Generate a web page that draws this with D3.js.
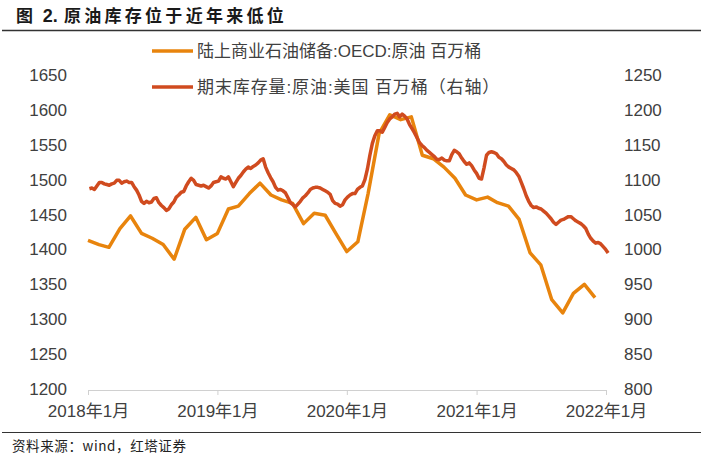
<!DOCTYPE html>
<html><head><meta charset="utf-8">
<script src="https://cdn.jsdelivr.net/npm/d3@7/dist/d3.min.js"></script>
<style>
html,body{margin:0;padding:0;background:#fff;}
svg{display:block;font-family:"Liberation Sans",Arial,"Noto Sans CJK SC",sans-serif;}
</style></head>
<body><svg id="c" width="703" height="460"></svg>
<script>
// ---- data ----
const title = "图 2. 原油库存位于近年来低位";
const source = "资料来源：wind，红塔证券";
const seriesNames = ["陆上商业石油储备:OECD:原油 百万桶", "期末库存量:原油:美国 百万桶（右轴）"];
const xTickLabels = ["2018年1月", "2019年1月", "2020年1月", "2021年1月", "2022年1月"];
const leftTicks = [1200,1250,1300,1350,1400,1450,1500,1550,1600,1650];
const rightTicks = [800,850,900,950,1000,1050,1100,1150,1200,1250];
// OECD monthly, 2018-01 .. 2021-12
const oecdStart = "2018-01-01";
const oecdValues = [
 1413,1407,1403,1430,1448,1423,1416,1407,1386,1429,1446,1414,
 1423,1458,1462,1480,1495,1478,1471,1466,1437,1452,1449,1423,
 1397,1411,1480,1566,1593,1586,1590,1535,1530,1518,1502,1478,
 1471,1475,1467,1462,1443,1395,1378,1328,1309,1337,1350,1331
];
// US weekly (Fridays), 2018-01-05 .. 2022-01-07
const usStart = "2018-01-05";
const usValues = [
 1087,1088,1086,1091,1096,1096,1094,1093,1092,1094,1095,1099,1099,1095,1097,1098,1096,1096,1090,1085,
 1078,1069,1066,1069,1067,1068,1073,1074,1067,1063,1060,1056,1058,1064,1068,1075,1078,1082,1083,1091,
 1097,1102,1099,1093,1092,1091,1092,1090,1088,1091,1096,1097,1098,1104,1102,1101,1104,1097,1090,1096,
 1102,1106,1111,1115,1118,1116,1119,1121,1124,1128,1130,1118,1110,1103,1097,1089,1085,1086,1084,1081,
 1074,1067,1064,1061,1065,1069,1074,1077,1081,1086,1088,1089,1089,1088,1086,1084,1082,1079,1070,1066,
 1065,1062,1064,1071,1075,1078,1080,1080,1086,1089,1091,1100,1115,1135,1152,1163,1170,1170,1168,1175,
 1182,1187,1190,1194,1195,1190,1194,1191,1187,1179,1173,1167,1160,1153,1149,1146,1142,1139,1136,1133,
 1129,1129,1131,1128,1127,1127,1136,1142,1140,1137,1131,1126,1122,1124,1120,1114,1109,1102,1101,1117,
 1135,1139,1140,1139,1137,1132,1130,1126,1121,1118,1116,1114,1110,1105,1096,1087,1077,1069,1063,1060,
 1061,1059,1058,1055,1052,1048,1044,1039,1036,1039,1042,1043,1045,1047,1047,1044,1041,1039,1037,1034,
 1030,1022,1016,1012,1009,1010,1008,1004,1000,995
];
const colors = ["#E8840D", "#D04B1F"];

// ---- build ----
const parse = d3.utcParse("%Y-%m-%d");
const oecd = oecdValues.map((v,i)=>({date:d3.utcMonth.offset(parse(oecdStart), i), v}));
const us = usValues.map((v,i)=>({date:d3.utcDay.offset(parse(usStart), i*7), v}));

const svg = d3.select("#c");
const x = d3.scaleUtc().domain([parse("2018-01-01"), parse("2022-01-01")]).range([88, 606]);
const yL = d3.scaleLinear().domain([1200,1650]).range([389, 75]);
const yR = d3.scaleLinear().domain([800,1250]).range([389, 75]);

// title
const t = svg.append("text").attr("x",16).attr("y",22)
  .attr("font-family","'Noto Sans CJK SC',sans-serif").attr("font-weight","bold")
  .attr("font-size",17).attr("fill","#1a1a1a");
t.append("tspan").attr("letter-spacing",3).text("图 ");
t.append("tspan").attr("font-family","'Liberation Sans',Arial,sans-serif").attr("font-size",18).attr("letter-spacing",0).text("2.");
t.append("tspan").attr("dx",6).attr("letter-spacing",3.3).text(title.slice(5));
svg.append("line").attr("x1",2).attr("x2",701).attr("y1",30.5).attr("y2",30.5)
  .attr("stroke","#333").attr("stroke-width",1.5);
svg.append("line").attr("x1",2).attr("x2",701).attr("y1",432.5).attr("y2",432.5)
  .attr("stroke","#333").attr("stroke-width",1.2);
svg.append("text").attr("x",12).attr("y",451).text(source)
  .attr("font-family","'Noto Sans CJK SC',sans-serif")
  .attr("font-size",13.5).attr("letter-spacing",0.6).attr("fill","#222");

// x axis
const xTicks = xTickLabels.map((_,i)=>parse((2018+i)+"-01-01"));
const xAxis = d3.axisBottom(x).tickValues(xTicks).tickSize(5).tickSizeOuter(0)
  .tickFormat((d,i)=>xTickLabels[i]);
const gx = svg.append("g").attr("transform","translate(0,390)").call(xAxis);
gx.select(".domain").attr("stroke","#d0d0d0");
gx.selectAll(".tick line").attr("stroke","#d0d0d0");
gx.selectAll(".tick text").attr("font-size",17).attr("fill","#404040").attr("dy",0).attr("y",27)
  .attr("font-family","'Liberation Sans','Noto Sans CJK SC',sans-serif");

// left axis
const gl = svg.append("g").attr("transform","translate(67,0)")
  .call(d3.axisLeft(yL).tickValues(leftTicks).tickSize(0).tickFormat(d3.format("d")));
gl.select(".domain").remove();
gl.selectAll(".tick text").attr("x",0).attr("font-size",17).attr("fill","#404040");

// right axis
const gr = svg.append("g").attr("transform","translate(624,0)")
  .call(d3.axisRight(yR).tickValues(rightTicks).tickSize(0).tickFormat(d3.format("d")));
gr.select(".domain").remove();
gr.selectAll(".tick text").attr("x",0).attr("font-size",17).attr("fill","#404040");

// lines
const lineL = d3.line().x(d=>x(d.date)).y(d=>yL(d.v));
const lineR = d3.line().x(d=>x(d.date)).y(d=>yR(d.v));
svg.append("path").datum(oecd).attr("d",lineL).attr("fill","none")
  .attr("stroke",colors[0]).attr("stroke-width",3.5).attr("stroke-linejoin","round");
svg.append("path").datum(us).attr("d",lineR).attr("fill","none")
  .attr("stroke",colors[1]).attr("stroke-width",3.5).attr("stroke-linejoin","round");

// legend
const leg = svg.append("g");
seriesNames.forEach((n,i)=>{
  const yy = 51 + i*36;
  leg.append("line").attr("x1",152).attr("x2",193).attr("y1",yy).attr("y2",yy)
    .attr("stroke",colors[i]).attr("stroke-width",3.5);
  leg.append("text").attr("x",197).attr("y",yy).attr("dy","0.35em").text(n)
    .attr("font-size",17).attr("fill","#404040").attr("letter-spacing", i===1 ? 0.9 : 0)
    .attr("font-family","'Liberation Sans','Noto Sans CJK SC',sans-serif");
});
</script></body></html>
